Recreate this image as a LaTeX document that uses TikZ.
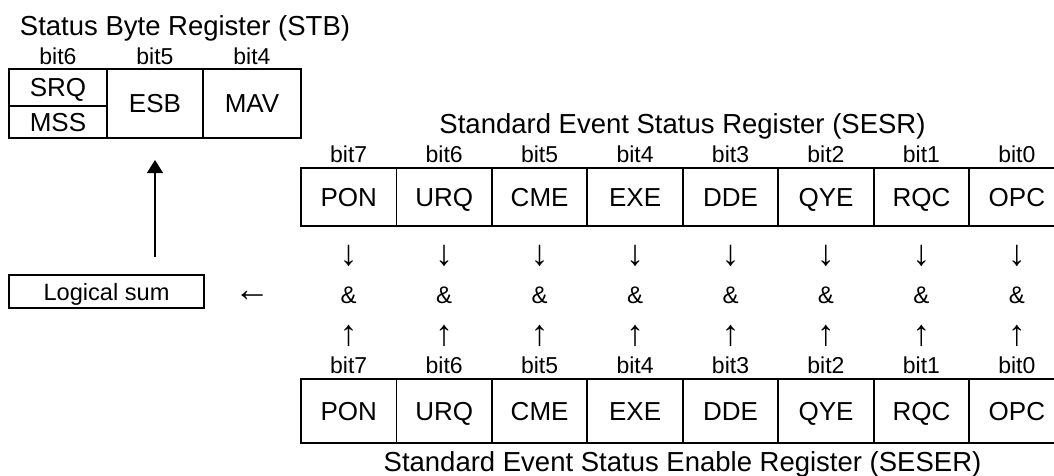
\documentclass[tikz,border=0pt]{standalone}
\usepackage{fontspec}
\setmainfont{Liberation Sans}
\usetikzlibrary{arrows.meta}
\begin{document}
\begin{tikzpicture}[x=1pt,y=-1pt,
 cell/.style={draw, line width=1.8pt, inner sep=0pt, outer sep=0pt, font=\fontsize{26}{26}\selectfont, text height=18.6pt, text depth=0pt, align=center},
 bitlbl/.style={inner sep=0pt, anchor=base, font=\fontsize{23}{23}\selectfont},
 regtitle/.style={inner sep=0pt, anchor=base, font=\fontsize{27.5}{27.5}\selectfont},
 sym/.style={inner sep=0pt, font=\fontsize{24}{24}\selectfont},
 arrsym/.style={inner sep=0pt, font=\fontsize{36}{36}\selectfont},
 bigarrow/.style={line width=1.3pt, -{Triangle[length=13pt,width=16pt]}}]
\useasboundingbox (0,0) rectangle (1054,475);
\clip (0,0) rectangle (1054,475);
% STB
\node[regtitle] (stbt) at (185,35) {Status Byte Register (STB)};
\node[bitlbl] (sb6) at (58,64) {bit6};
\node[bitlbl] (sb5) at (155,64) {bit5};
\node[bitlbl] (sb4) at (252,64) {bit4};
\node[cell, minimum width=98pt, minimum height=37pt] (srq) at (58,87.5) {SRQ};
\node[cell, minimum width=98pt, minimum height=32pt] (mss) at (58,122) {MSS};
\node[cell, minimum width=96pt, minimum height=69pt] (esb) at (155,103.5) {ESB};
\node[cell, minimum width=98pt, minimum height=69pt] (mav) at (252,103.5) {MAV};
% Logical sum
\node[cell, minimum width=195pt, minimum height=33pt, font=\fontsize{23.6}{23.6}\selectfont, text height=17pt] (lsum) at (106.5,291.5) {Logical sum};
\coordinate (astart) at (155,257);
\draw[bigarrow, shorten >=22pt] (astart) -- (esb.south);
\node[arrsym] (larrow) at (252,296) {←};
% SESR / SESER
\node[regtitle] (sesrt) at (682.5,133) {Standard Event Status Register (SESR)};
\node[regtitle] (sesert) at (682.5,471) {Standard Event Status Enable Register (SESER)};
\foreach \t [count=\i from 0] in {PON,URQ,CME,EXE,DDE,QYE,RQC,OPC}{
  \pgfmathsetmacro\cx{301+95.45*(\i+0.5)}
  \pgfmathtruncatemacro\b{7-\i}
  \node[bitlbl] (bt\i) at (\cx,162) {bit\b};
  \node[cell, minimum width=95.45pt, minimum height=58pt] (r\i) at (\cx,197) {\t};
  \node[arrsym] (dn\i) at (\cx,256) {↓};
  \node[sym] (amp\i) at (\cx,295) {\&};
  \node[arrsym] (up\i) at (\cx,336) {↑};
  \node[bitlbl] (bb\i) at (\cx,373) {bit\b};
  \node[cell, minimum width=95.45pt, minimum height=64pt] (e\i) at (\cx,411) {\t};
}
\end{tikzpicture}
\end{document}
